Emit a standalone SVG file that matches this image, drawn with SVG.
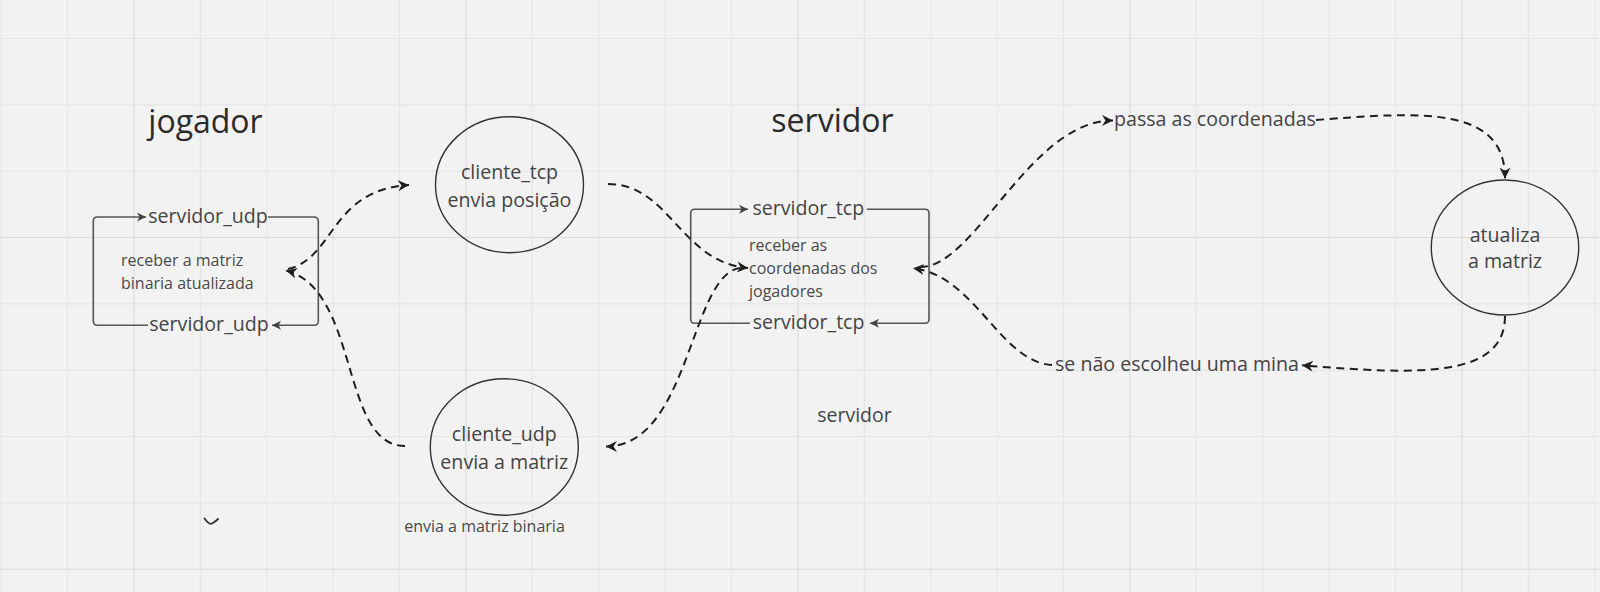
<svg xmlns="http://www.w3.org/2000/svg" width="1600" height="592" viewBox="0 0 1600 592">
<style>
text{font-family:"Open Sans","Noto Sans","DejaVu Sans",sans-serif}
.title{font-size:32px;fill:#2b2b2b;text-anchor:middle}
.lbl{font-size:19.6px;fill:#444;text-anchor:middle}
.small{font-size:16px;fill:#4a4a4a}
.mid{text-anchor:middle}
.shape{fill:none;stroke:#333;stroke-width:1.4}
.loop{fill:none;stroke:#555;stroke-width:1.6}
.dash{fill:none;stroke:#1e1e1e;stroke-width:2;stroke-dasharray:8 5.5}
</style>
<defs>
<marker id="ah" markerUnits="userSpaceOnUse" markerWidth="14" markerHeight="14" refX="11" refY="6" orient="auto" viewBox="0 0 14 12">
<path d="M0,0.5 L11,6 L0,11.5 L3.5,6 Z" fill="#1e1e1e"/>
</marker>
<marker id="ah2" markerUnits="userSpaceOnUse" markerWidth="12" markerHeight="12" refX="9" refY="4.5" orient="auto" viewBox="0 0 12 9">
<path d="M0,0 L9,4.5 L0,9 L2.5,4.5 Z" fill="#444"/>
</marker>
</defs>
<rect width="1600" height="592" fill="#f2f2f2"/>
<g id="grid" stroke="#e4e4e4" stroke-width="1">
<path d="M1.2 0V592M67.6 0V592M200.4 0V592M266.8 0V592M333.2 0V592M399.6 0V592M532.4 0V592M598.8 0V592M665.2 0V592M731.6 0V592M864.4 0V592M930.8 0V592M997.2 0V592M1063.6 0V592M1196.4 0V592M1262.8 0V592M1329.2 0V592M1395.6 0V592M1528.4 0V592M1594.8 0V592"/>
<path d="M0 38.5H1600M0 104.9H1600M0 171.2H1600M0 303.9H1600M0 370.3H1600M0 436.6H1600M0 503H1600"/>
<path stroke="#dadada" d="M134 0V592M466 0V592M798 0V592M1130 0V592M1462 0V592M0 237.5H1600M0 569.2H1600"/>
</g>
<g id="titles">
<text class="title" x="205.5" y="133">jogador</text>
<text class="title" x="832.5" y="131.5">servidor</text>
</g>
<g id="jogador-box">
<path class="loop" d="M268 217H314Q318.3 217 318.3 221V321Q318.3 325.3 314 325.3H272" marker-end="url(#ah2)"/>
<path class="loop" d="M148 325.3H97.5Q93.3 325.3 93.3 321V221Q93.3 217 97.5 217H146" marker-end="url(#ah2)"/>
<text class="lbl" x="208" y="222.5">servidor_udp</text>
<text class="lbl" x="209" y="330.8">servidor_udp</text>
<text class="small" x="121" y="265.5">receber a matriz</text>
<text class="small" x="121" y="288.5">binaria atualizada</text>
</g>
<g id="cliente-tcp">
<ellipse class="shape" cx="509.5" cy="184.7" rx="74" ry="68"/>
<text class="lbl" x="509.5" y="179">cliente_tcp</text>
<text class="lbl" x="509.5" y="206.5">envia posição</text>
</g>
<g id="cliente-udp">
<ellipse class="shape" cx="504.3" cy="447" rx="74" ry="68.2"/>
<text class="lbl" x="504.3" y="441">cliente_udp</text>
<text class="lbl" x="504.3" y="468.5">envia a matriz</text>
<text class="small mid" x="484.5" y="531.5">envia a matriz binaria</text>
</g>
<g id="servidor-box">
<path class="loop" d="M866.7 209.3H925Q929 209.3 929 213.3V319.3Q929 323.3 925 323.3H870" marker-end="url(#ah2)"/>
<path class="loop" d="M750 323.3H694.7Q690.7 323.3 690.7 319.3V213.3Q690.7 209.3 694.7 209.3H748" marker-end="url(#ah2)"/>
<text class="lbl" x="808.3" y="214.8">servidor_tcp</text>
<text class="lbl" x="808.6" y="328.8">servidor_tcp</text>
<text class="small" x="749" y="251">receber as</text>
<text class="small" x="749" y="274">coordenadas dos</text>
<text class="small" x="749" y="297">jogadores</text>
</g>
<g id="servidor-label">
<text class="small mid" x="854.5" y="422" style="font-size:19.5px;fill:#444">servidor</text>
</g>
<g id="atualiza">
<ellipse class="shape" cx="1505" cy="247.5" rx="73.7" ry="67.5"/>
<text class="lbl" x="1505" y="241.7">atualiza</text>
<text class="lbl" x="1505" y="268.3">a matriz</text>
</g>
<g id="edge-labels">
<text class="lbl" x="1215" y="126.2">passa as coordenadas</text>
<text class="lbl" x="1177" y="370.8">se não escolheu uma mina</text>
</g>
<g id="connectors">
<path class="dash" d="M288 269C335 258 330 190 409 185" marker-end="url(#ah)"/>
<path class="dash" d="M405 446C340 446 360 290 286 270.5" marker-end="url(#ah)"/>
<path class="dash" d="M608 184C670 184 680 262 748 268" marker-end="url(#ah)"/>
<path class="dash" d="M740 268C690 275 690 446 606 446.5" marker-end="url(#ah)"/>
<path class="dash" d="M920 267C975 268 1030 120 1113 120.5" marker-end="url(#ah)"/>
<path class="dash" d="M1316 120C1420 112 1505 105 1505 178.5" marker-end="url(#ah)"/>
<path class="dash" d="M1505 316C1505 378 1420 375 1302 365.3" marker-end="url(#ah)"/>
<path class="dash" d="M1052 365C1000 362 975 275 913 268.3" marker-end="url(#ah)"/>
</g>
<g id="mark">
<path d="M204.5 518.5Q209 525 212 523.5Q215 522 218 519" fill="none" stroke="#333" stroke-width="1.8" stroke-linecap="round"/>
</g>
</svg>
